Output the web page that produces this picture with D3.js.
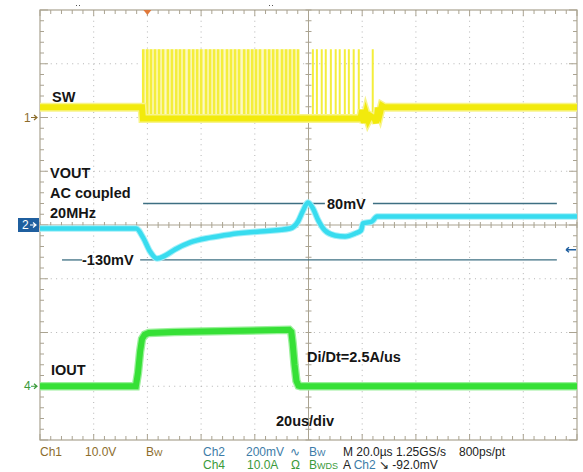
<!DOCTYPE html>
<html>
<head>
<meta charset="utf-8">
<script src="https://cdn.jsdelivr.net/npm/d3@7"></script>
<style>
body { margin: 0; background: #fff; }
svg { display: block; }
</style>
</head>
<body>
<svg></svg>
<script>
const svgWidth = 583;
const svgHeight = 472;

// time axis in us, 20us/div, 0 = screen centre
const timeDomain = [-100, 100];

// Ch1 SW node (V), 10V/div
const swIdle = 1.9;
const swHigh = 12.7;
const swLow = -0.2;
const swPulsesA = [-61.6, -60.1, -58.7, -57.2, -55.7, -54.2, -52.4, -50.9, -49.3, -47.9,
  -46.4, -44.5, -43.0, -41.5, -40.0, -38.2, -36.7, -35.2, -33.7, -32.2,
  -30.4, -28.9, -27.4, -25.9, -24.0, -22.5, -21.0, -19.6, -18.1, -16.2,
  -14.7, -13.2, -11.7, -9.9, -8.4, -6.9, -5.4, -3.9];
const swPulsesB = [1.7, 3.2, 5.0, 6.5, 8.4, 10.2, 11.7, 13.6, 15.1, 16.9, 18.8, 24.0];
const swBase = [[-100, 1.9], [-62.0, 1.9], [-61.7, -0.2], [19.4, -0.2], [19.9, 1.4], [20.6, -1.0],
  [21.4, 0.8], [22.2, -0.5], [23.0, 0.3], [24.6, -0.2], [25.2, -1.0], [25.9, 1.8],
  [26.6, 0.8], [27.3, 2.2], [28.3, 1.9], [100, 1.9]];

// Ch2 VOUT (mV), 200mV/div, AC coupled
const vout = [[-100, -13], [-64.2, -13], [-61.6, -47], [-59.0, -99], [-56.4, -125], [-53.4, -114],
  [-49.7, -91], [-44.1, -65], [-36.7, -47], [-29.2, -35], [-18.1, -24], [-6.9, -13],
  [-3.9, 13], [-2.0, 54], [-0.2, 84], [1.7, 61], [3.5, 20], [6.1, -20], [9.9, -39],
  [13.6, -43], [17.3, -32], [19.6, -20], [20.3, 6], [23.6, 13], [25.5, 32], [100, 32]];

// Ch4 IOUT (A), 10A/div
const iout = [[-100, 0], [-64.3, 0], [-63.5, 2.5], [-62.7, 6.5], [-62.0, 8.8], [-61.0, 9.6],
  [-59.5, 9.9], [-50, 10.1], [-30, 10.3], [-7.2, 10.5], [-6.4, 10.1], [-5.9, 8.0],
  [-5.2, 4.0], [-4.5, 1.0], [-3.7, 0.1], [-3.0, 0], [100, 0]];

// cursor levels on VOUT (mV) and the time spans they are drawn over
const cursorLevels = [80, -130];
const cursorSpans = [[[-61.6, 6.1], [24.0, 92.5]], [[-91.8, -84.3], [-62.7, 92.5]]];

const svg = d3.select('svg')
  .attr('width', svgWidth)
  .attr('height', svgHeight);

const x = d3.scaleLinear().domain(timeDomain).range([40, 577]);
const yDiv = d3.scaleLinear().domain([-4, 4]).range([440, 10]);
const y1 = v => yDiv(2 + v / 10);
const y2 = mv => yDiv(mv / 200);
const y4 = a => yDiv(-3 + a / 10);

const gridColor = '#aaa391';
const x0 = x(-100), x1 = x(100), t0 = yDiv(4), b0 = yDiv(-4);
const xc = x(0), yc = yDiv(0);

// dotted graticule
let grid = svg.append('g');
d3.range(-80, 100, 20).filter(d => d != 0).forEach(function (d) {
  grid.append('line')
    .attr('x1', x(d)).attr('x2', x(d)).attr('y1', t0).attr('y2', b0)
    .attr('stroke', '#b4b4b4').attr('stroke-dasharray', '1,4.37');
});
d3.range(-3, 4, 1).filter(d => d != 0).forEach(function (d) {
  grid.append('line')
    .attr('x1', x0).attr('x2', x1).attr('y1', yDiv(d)).attr('y2', yDiv(d))
    .attr('stroke', '#b4b4b4').attr('stroke-dasharray', '1,4.37');
});

// border and centre cross
grid.append('rect')
  .attr('x', x0).attr('y', t0).attr('width', x1 - x0).attr('height', b0 - t0)
  .attr('fill', 'none').attr('stroke', gridColor).attr('stroke-width', 1.2);
grid.append('line').attr('x1', xc).attr('x2', xc).attr('y1', t0).attr('y2', b0)
  .attr('stroke', gridColor);
grid.append('line').attr('x1', x0).attr('x2', x1).attr('y1', yc).attr('y2', yc)
  .attr('stroke', gridColor);

let ticks = d3.path();
d3.range(0, 51).forEach(function (i) {
  let px = x(-100 + i * 4);
  let len = (i % 5 == 0) ? 6 : 4;
  ticks.moveTo(px, t0); ticks.lineTo(px, t0 + len);
  ticks.moveTo(px, b0); ticks.lineTo(px, b0 - len);
  ticks.moveTo(px, yc - 3); ticks.lineTo(px, yc + 3);
});
d3.range(0, 41).forEach(function (i) {
  let py = yDiv(-4 + i * 0.2);
  let len = (i % 5 == 0) ? 8 : 4;
  ticks.moveTo(x0, py); ticks.lineTo(x0 + len, py);
  ticks.moveTo(x1, py); ticks.lineTo(x1 - len, py);
  ticks.moveTo(xc - 3, py); ticks.lineTo(xc + 3, py);
});
grid.append('path').attr('d', ticks.toString())
  .attr('stroke', gridColor).attr('fill', 'none');

// Ch1 switching
const yellow = '#f2ea0c';
svg.append('rect')
  .attr('x', x(swPulsesA[0])).attr('y', y1(swHigh))
  .attr('width', x(swPulsesA[swPulsesA.length - 1]) - x(swPulsesA[0]))
  .attr('height', y1(swLow) - y1(swHigh))
  .attr('fill', '#fcf8c4');
svg.selectAll('.pulse')
  .data(swPulsesA.concat(swPulsesB))
  .enter().append('rect')
  .attr('class', 'pulse')
  .attr('x', d => x(d) - 1.2)
  .attr('y', y1(swHigh))
  .attr('width', (d, i) => i < swPulsesA.length ? 2.6 : 2.0)
  .attr('height', y1(swLow) - y1(swHigh))
  .attr('fill', '#f4ee3c');

const line1 = d3.line().x(d => x(d[0])).y(d => y1(d[1]));
svg.append('path').datum(swBase)
  .attr('d', line1).attr('fill', 'none')
  .attr('stroke', '#f8f48a').attr('stroke-width', 9);
svg.append('path').datum(swBase)
  .attr('d', line1).attr('fill', 'none')
  .attr('stroke', yellow).attr('stroke-width', 6);

// Ch2 cursors
const cursorColor = '#3d6f82';
cursorLevels.forEach(function (lv, i) {
  cursorSpans[i].forEach(function (s) {
    svg.append('line')
      .attr('x1', x(s[0])).attr('x2', x(s[1]))
      .attr('y1', y2(lv)).attr('y2', y2(lv))
      .attr('stroke', cursorColor).attr('stroke-width', 1.3);
  });
});

// Ch2 trace
const cyan = '#38dcef';
const line2 = d3.line().x(d => x(d[0])).y(d => y2(d[1])).curve(d3.curveMonotoneX);
svg.append('path').datum(vout)
  .attr('d', line2).attr('fill', 'none')
  .attr('stroke', '#a4eff8').attr('stroke-width', 6.5);
svg.append('path').datum(vout)
  .attr('d', line2).attr('fill', 'none')
  .attr('stroke', cyan).attr('stroke-width', 4.5);

// Ch4 trace
const green = '#36e036';
const line4 = d3.line().x(d => x(d[0])).y(d => y4(d[1]));
svg.append('path').datum(iout)
  .attr('d', line4).attr('fill', 'none')
  .attr('stroke', '#9af09a').attr('stroke-width', 8.5);
svg.append('path').datum(iout)
  .attr('d', line4).attr('fill', 'none')
  .attr('stroke', green).attr('stroke-width', 6);

// annotations
const labelFont = '"Liberation Sans", Arial, sans-serif';
let notes = svg.append('g')
  .attr('font-family', labelFont).attr('font-weight', 'bold')
  .attr('font-size', 14.5).attr('fill', '#151515');
notes.append('text').attr('x', 52).attr('y', 102).text('SW');
notes.append('text').attr('x', 50).attr('y', 178).text('VOUT');
notes.append('text').attr('x', 50).attr('y', 198).text('AC coupled');
notes.append('text').attr('x', 50).attr('y', 218).text('20MHz');
notes.append('text').attr('x', 82).attr('y', y2(-130) + 5).text('-130mV');
notes.append('text').attr('x', 327).attr('y', y2(80) + 5).text('80mV');
notes.append('text').attr('x', 51).attr('y', 375).text('IOUT');
notes.append('text').attr('x', 307).attr('y', 362).text('Di/Dt=2.5A/us');
notes.append('text').attr('x', 276).attr('y', 426).text('20us/div');

// channel ground markers
const ch1Color = '#8c6d2c';
const ch2Color = '#3d7ca8';
const ch4Color = '#3a9a3a';
const arrow = function (g, px, py, color) {
  g.append('path')
    .attr('d', `M${px},${py}h6m-3,-2.5l3,2.5l-3,2.5`)
    .attr('stroke', color).attr('fill', 'none').attr('stroke-width', 1.2);
};
let markers = svg.append('g').attr('font-family', labelFont).attr('font-size', 12);
markers.append('text').attr('x', 24).attr('y', y1(0) + 4).attr('fill', ch1Color).text('1');
arrow(markers, 31, y1(0), ch1Color);
markers.append('rect').attr('x', 18).attr('y', y2(0) - 7).attr('width', 21).attr('height', 14)
  .attr('fill', '#1f5f9f');
markers.append('text').attr('x', 22).attr('y', y2(0) + 4).attr('fill', '#fff').text('2');
arrow(markers, 30, y2(0), '#fff');
markers.append('text').attr('x', 24).attr('y', y4(0) + 4).attr('fill', ch4Color).text('4');
arrow(markers, 31, y4(0), ch4Color);

// trigger position and level
markers.append('path')
  .attr('d', `M${x(-60) - 4},${t0}h8l-4,5z`)
  .attr('fill', '#e0783a');
markers.append('path')
  .attr('d', `M566,${y2(-92)}h10m-10,0l3,-2.5m-3,2.5l3,2.5`)
  .attr('stroke', '#1f5f9f').attr('fill', 'none').attr('stroke-width', 1.4);
markers.append('rect').attr('x', 76).attr('y', 5).attr('width', 1).attr('height', 1).attr('fill', '#555');
markers.append('rect').attr('x', 79).attr('y', 5).attr('width', 1).attr('height', 1).attr('fill', '#555');
markers.append('rect').attr('x', 269).attr('y', 5).attr('width', 1).attr('height', 1).attr('fill', '#555');
markers.append('rect').attr('x', 272).attr('y', 5).attr('width', 1).attr('height', 1).attr('fill', '#555');

// status line
let status = svg.append('g')
  .attr('font-family', '"Liberation Sans Narrow", "Liberation Sans", Arial, sans-serif')
  .attr('font-size', 12);
const row1 = 456, row2 = 469;
const put = function (px, py, color, txt) {
  return status.append('text').attr('x', px).attr('y', py).attr('fill', color).text(txt);
};
put(40, row1, ch1Color, 'Ch1');
put(85, row1, ch1Color, '10.0V');
put(146, row1, ch1Color, 'B').append('tspan').attr('font-size', 9).text('W');
put(203, row1, ch2Color, 'Ch2');
put(246, row1, ch2Color, '200mV');
put(290, row1, ch2Color, '∿');
put(309, row1, ch2Color, 'B').append('tspan').attr('font-size', 9).text('W');
put(343, row1, '#222', 'M 20.0µs 1.25GS/s');
put(459, row1, '#222', '800ps/pt');
put(203, row2, ch4Color, 'Ch4');
put(247, row2, ch4Color, '10.0A');
put(291, row2, ch4Color, 'Ω');
let bw = put(309, row2, ch4Color, 'B');
bw.append('tspan').attr('font-size', 9).text('W');
bw.append('tspan').attr('font-size', 9).text('D');
bw.append('tspan').attr('font-size', 9).text('S');
let trig = put(343, row2, '#222', 'A ');
trig.append('tspan').attr('fill', ch2Color).text('Ch2');
trig.append('tspan').text(' ↘ -92.0mV');
</script>
</body>
</html>
